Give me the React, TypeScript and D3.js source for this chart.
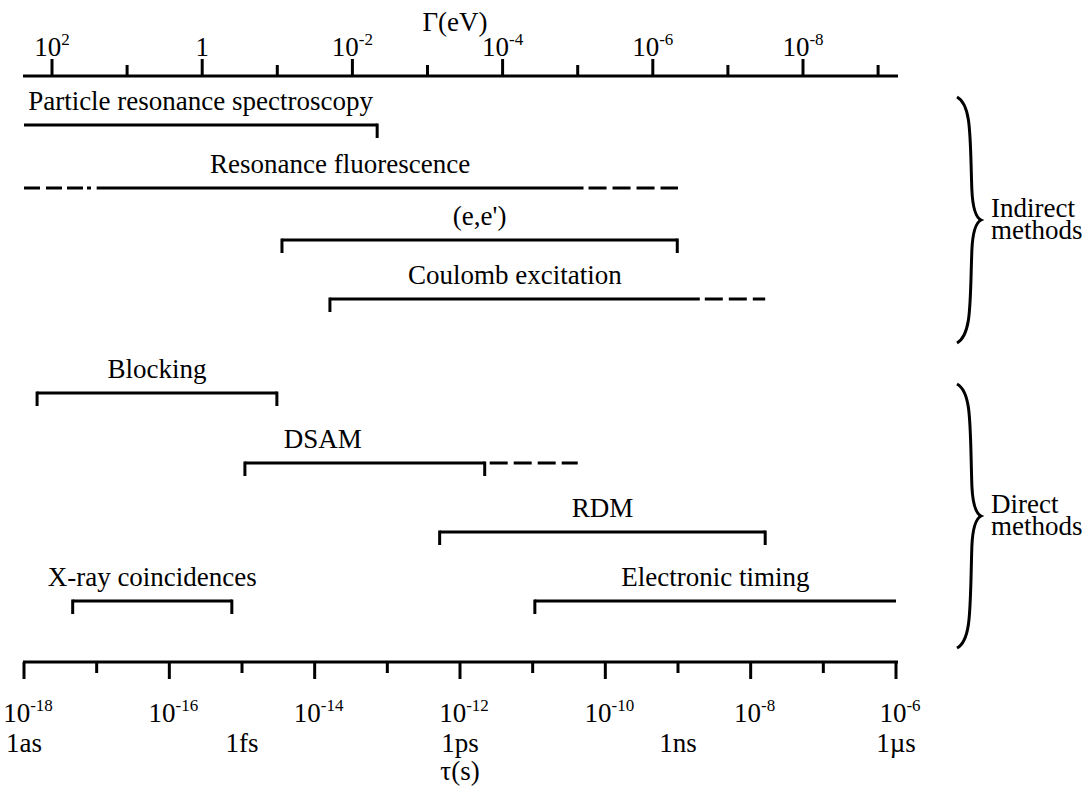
import React from "react";
import * as d3 from "d3";

// Lifetime axis (seconds), decade exponents
const tauTickExps = [-18, -17, -16, -15, -14, -13, -12, -11, -10, -9, -8, -7, -6];
const tauUnitLabels = [
  { exp: -18, text: "1as" },
  { exp: -15, text: "1fs" },
  { exp: -12, text: "1ps" },
  { exp: -9, text: "1ns" },
  { exp: -6, text: "1\u00b5s" },
];
// Width axis (eV), decade exponents
const gammaTickExps = [2, 1, 0, -1, -2, -3, -4, -5, -6, -7, -8, -9];

// Methods: lifetime range as log10(tau/s) exponents
const methodNames = [
  "Particle resonance spectroscopy",
  "Resonance fluorescence",
  "(e,e')",
  "Coulomb excitation",
  "Blocking",
  "DSAM",
  "RDM",
  "X-ray coincidences",
  "Electronic timing",
];
const solidFrom = [-18.0, -17.0, -14.45, -13.79, -17.82, -14.96, -12.28, -17.33, -10.97];
const solidTo = [-13.14, -10.3, -9.01, -8.7, -14.52, -11.66, -7.8, -15.14, -6.0];
const dashedFrom = [null, -18.0, null, null, null, null, null, null, null];
const dashedTo = [null, -9.0, null, -7.8, null, -10.38, null, null, null];
const leftTick = [false, false, true, true, true, true, true, true, true];
const rightTick = [true, false, true, false, true, true, true, true, false];
const rowOrder = [0, 1, 2, 3, 4, 5, 6, 7, 7];
// label centre, where it is not the middle of the solid range
const labelAt = [null, null, null, null, null, -13.89, null, null, null];

const groupNames = [["Indirect", "methods"], ["Direct", "methods"]];

const W = 1087;
const H = 787;
const FONT = "'Liberation Serif', 'Times New Roman', serif";
const FS = 27;

export default function App() {
  const x = d3.scaleLinear().domain([-18, -6]).range([24, 896]);
  const g = d3.scaleLinear().domain([2, -8]).range([52, 803]);
  const rowY = [125, 188, 240, 299, 393, 463, 532, 601];
  const yOf = (i: number) => rowY[i];

  const topY = 76;
  const botY = 662;

  const sup = (base: string, exp: string, cx: number, y: number, key: string) => (
    <text key={key} x={cx} y={y} textAnchor="middle" fontFamily={FONT} fontSize={FS}>
      {base}
      {exp && (
        <tspan fontSize={17} dy={-11}>
          {exp}
        </tspan>
      )}
    </text>
  );

  const bracePath = (x0: number, y0: number, y1: number, w: number) => {
    const ym = (y0 + y1) / 2;
    const xm = x0 + w * 0.62;
    return `M${x0},${y0} C${xm},${y0 + 8} ${xm - 2},${y0 + 40} ${xm},${ym - 30}
      C${xm + 1},${ym - 8} ${x0 + w - 4},${ym - 2} ${x0 + w},${ym}
      C${x0 + w - 4},${ym + 2} ${xm + 1},${ym + 8} ${xm},${ym + 30}
      C${xm - 2},${y1 - 40} ${xm},${y1 - 8} ${x0},${y1}`;
  };

  const braces = [
    { y0: 97, y1: 343 },
    { y0: 384, y1: 648 },
  ];

  return (
    <svg width={W} height={H} style={{ display: "block", position: "absolute", left: 0, top: 0 }}>
      <rect width={W} height={H} fill="#fff" />

      {/* top axis: width in eV */}
      <text x={455} y={31} textAnchor="middle" fontFamily={FONT} fontSize={FS}>
        Γ(eV)
      </text>
      <line x1={23} x2={898} y1={topY} y2={topY} stroke="#000" strokeWidth={3} />
      {gammaTickExps.map((e) => (
        <line
          key={"gt" + e}
          x1={g(e)}
          x2={g(e)}
          y1={topY}
          y2={e % 2 === 0 ? topY - 17 : topY - 11}
          stroke="#000"
          strokeWidth={3}
        />
      ))}
      {gammaTickExps
        .filter((e) => e % 2 === 0 && e >= -8)
        .map((e) =>
          e === 0
            ? sup("1", "", g(e), 56, "gl" + e)
            : sup("10", String(e), g(e), 56, "gl" + e)
        )}

      {/* bottom axis: lifetime in s */}
      <line x1={23} x2={898} y1={botY} y2={botY} stroke="#000" strokeWidth={3} />
      {tauTickExps.map((e) => (
        <line
          key={"tt" + e}
          x1={x(e)}
          x2={x(e)}
          y1={botY}
          y2={e % 2 === 0 ? botY + 17 : botY + 11}
          stroke="#000"
          strokeWidth={3}
        />
      ))}
      {tauTickExps
        .filter((e) => e % 2 === 0)
        .map((e) => sup("10", String(e), x(e) + 4, 722, "tl" + e))}
      {tauUnitLabels.map((u) => (
        <text key={u.text} x={x(u.exp)} y={752} textAnchor="middle" fontFamily={FONT} fontSize={FS}>
          {u.text}
        </text>
      ))}
      <text x={460} y={780} textAnchor="middle" fontFamily={FONT} fontSize={FS}>
        τ(s)
      </text>

      {/* method ranges */}
      {methodNames.map((name, i) => {
        const y = yOf(rowOrder[i]);
        const a = x(solidFrom[i]);
        const b = x(solidTo[i]);
        const df = dashedFrom[i];
        const dt = dashedTo[i];
        const la = labelAt[i];
        const labelX = la !== null ? x(la) : (a + b) / 2;
        return (
          <g key={name}>
            <line x1={a} x2={b} y1={y} y2={y} stroke="#000" strokeWidth={3} />
            {leftTick[i] && <line x1={a} x2={a} y1={y - 1.5} y2={y + 13} stroke="#000" strokeWidth={3} />}
            {rightTick[i] && <line x1={b} x2={b} y1={y - 1.5} y2={y + 13} stroke="#000" strokeWidth={3} />}
            {df !== null && (
              <line
                x1={x(df)}
                x2={a - 4}
                y1={y}
                y2={y}
                stroke="#000"
                strokeWidth={3}
                strokeDasharray="16 6 16 5 16 4 4 4"
              />
            )}
            {dt !== null && (
              <line
                x1={b + 5}
                x2={x(dt)}
                y1={y}
                y2={y}
                stroke="#000"
                strokeWidth={3}
                strokeDasharray="18 6"
              />
            )}
            <text x={labelX} y={y - 15} textAnchor="middle" fontFamily={FONT} fontSize={FS}>
              {name}
            </text>
          </g>
        );
      })}

      {/* grouping braces */}
      {braces.map((b, i) => {
        const ym = (b.y0 + b.y1) / 2;
        return (
          <g key={"brace" + i}>
            <path d={bracePath(957, b.y0, b.y1, 24)} fill="none" stroke="#000" strokeWidth={3} />
            <text x={991} y={ym - 3} fontFamily={FONT} fontSize={FS}>
              {groupNames[i][0]}
            </text>
            <text x={991} y={ym + 19} fontFamily={FONT} fontSize={FS}>
              {groupNames[i][1]}
            </text>
          </g>
        );
      })}
    </svg>
  );
}
